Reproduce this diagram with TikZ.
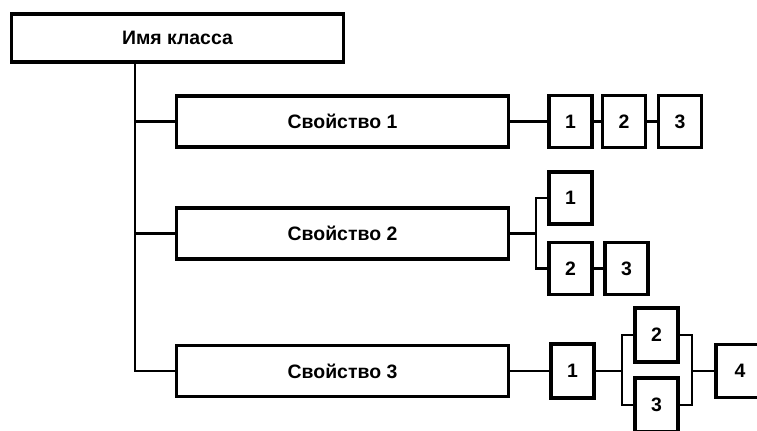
\documentclass[tikz,border=0pt]{standalone}
\usepackage{fontspec}
\setmainfont{Liberation Sans}
\begin{document}
\begin{tikzpicture}[x=1bp,y=-1bp,
  box/.style={draw=black, line width=3.3bp, rectangle, inner sep=0pt, fill=white,
    font=\bfseries\fontsize{19.5}{22}\selectfont},
  bigbox/.style={box, minimum width=332bp, minimum height=51bp},
  sbox/.style={box, minimum width=43bp, minimum height=52bp},
  link/.style={draw=black, line width=2.3bp}]
\useasboundingbox (0,0) rectangle (757,430);
\clip (0,0) rectangle (757,430);
\fill[white] (0,0) rectangle (757,430);

\node[box, minimum width=332bp, minimum height=48bp] (cls) at (177.5,38) {Имя класса};
\node[bigbox] (p1) at (342.5,121.5) {Свойство 1};
\node[bigbox] (p2) at (342.5,233.5) {Свойство 2};
\node[bigbox] (p3) at (342.5,371) {Свойство 3};

% property 1 items
\node[sbox] (a1) at (570.5,121.5) {1};
\node[sbox] (a2) at (624,121.5) {2};
\node[sbox] (a3) at (680,121.5) {3};

% property 2 items
\node[sbox] (b1) at (570.5,198) {1};
\node[sbox] (b2) at (570.5,268.5) {2};
\node[sbox] (b3) at (626.5,268.5) {3};

% property 3 items
\node[sbox, minimum height=54bp] (c1) at (572.5,371) {1};
\node[sbox, minimum height=54bp] (c2) at (656.5,335) {2};
\node[sbox, minimum height=54bp] (c3) at (656.5,405) {3};
\node[sbox, minimum width=48bp, minimum height=53bp] (c4) at (740,371) {4};

% junction points
\coordinate (tr) at (135,63);
\coordinate (bj) at (536,233.5);
\coordinate (lj) at (622,371);
\coordinate (rj) at (692,371);

\draw[link] (cls.south -| tr) |- (p3.west);
\draw[link] (tr |- p1.west) -- (p1.west);
\draw[link] (tr |- p2.west) -- (p2.west);

\draw[link] (p1.east) -- (a1.west);
\draw[link] (a1.east) -- (a2.west);
\draw[link] (a2.east) -- (a3.west);

\draw[link] (p2.east) -- (bj);
\draw[link] (b1.west) -| (bj) |- (b2.west);
\draw[link] (b2.east) -- (b3.west);

\draw[link] (p3.east) -- (c1.west);
\draw[link] (c1.east) -- (lj);
\draw[link] (c2.west) -| (lj) |- (c3.west);
\draw[link] (c2.east) -| (rj) |- (c3.east);
\draw[link] (rj) -- (c4.west);
\end{tikzpicture}
\end{document}
